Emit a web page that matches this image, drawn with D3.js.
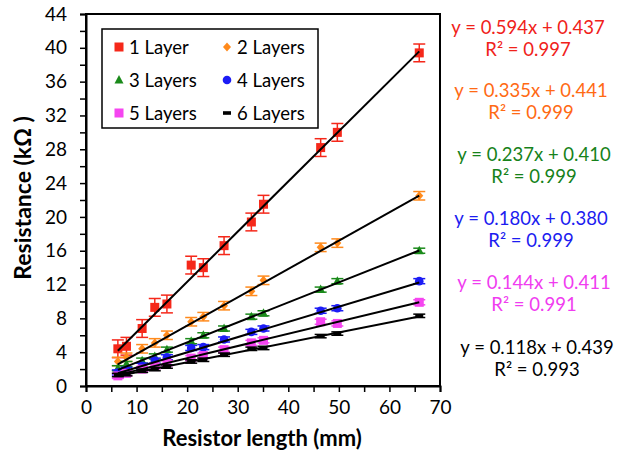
<!DOCTYPE html>
<html>
<head>
<meta charset="utf-8">
<script src="https://cdn.jsdelivr.net/npm/d3@7"></script>
<style>
  html, body { margin: 0; padding: 0; background: #fff; }
  svg { display: block; font-family: Lato, "Open Sans", sans-serif; }
</style>
</head>
<body>
<svg id="chart" width="623" height="451"></svg>
<script>
// Resistor lengths (mm), shared by all layer counts
const lengths = [6.3, 8.0, 11.1, 13.6, 16.0, 20.8, 23.2, 27.3, 32.7, 35.1, 46.4, 49.7, 65.9];

// Measured resistance (kΩ) for each number of printed layers
const layer1 = [4.4, 4.7, 6.8, 9.3, 9.7, 14.3, 14.0, 16.6, 19.4, 21.5, 28.2, 30.0, 39.4];
const layer2 = [2.9, 3.4, 4.4, 5.1, 6.0, 7.6, 8.2, 9.5, 11.2, 12.5, 16.4, 16.9, 22.5];
const layer3 = [2.1, 2.6, 3.0, 3.5, 4.3, 5.3, 6.0, 6.8, 8.2, 8.6, 11.4, 12.4, 16.0];
const layer4 = [1.6, 1.9, 2.4, 3.0, 3.4, 4.5, 4.6, 5.5, 6.4, 6.8, 8.9, 9.2, 12.4];
const layer5 = [1.2, 1.5, 2.0, 2.3, 2.7, 3.3, 3.6, 4.3, 5.1, 5.4, 7.6, 7.4, 9.9];
const layer6 = [1.3, 1.4, 1.8, 2.0, 2.3, 2.9, 3.1, 3.7, 4.4, 4.5, 5.9, 6.2, 8.3];

// Error bar half-widths (kΩ) per series
const errors = [1.05, 0.5, 0.3, 0.3, 0.3, 0.2];

// Linear fits
const slopes = [0.594, 0.335, 0.237, 0.180, 0.144, 0.118];
const intercepts = [0.437, 0.441, 0.410, 0.380, 0.411, 0.439];
const rSquared = [0.997, 0.999, 0.999, 0.999, 0.991, 0.993];

const seriesNames = ["1 Layer", "2 Layers", "3 Layers", "4 Layers", "5 Layers", "6 Layers"];
const seriesValues = [layer1, layer2, layer3, layer4, layer5, layer6];

const xTicks = [0, 10, 20, 30, 40, 50, 60, 70];
const yTicks = [0, 4, 8, 12, 16, 20, 24, 28, 32, 36, 40, 44];

// styling
const markerColors = ["#f5281a", "#ff8a1c", "#1a8a1a", "#1c1cf5", "#f545f0", "#000000"];
const textColors = ["#f0221a", "#ff6a14", "#16821a", "#1c1cf0", "#f03cf0", "#000000"];
const shapes = ["square", "diamond", "triangle", "circle", "square", "dash"];

const svg = d3.select("#chart");
const m = { left: 86, right: 440, top: 14, bottom: 386 };

const x = d3.scaleLinear().domain([0, 70]).range([m.left, m.right]);
const y = d3.scaleLinear().domain([0, 44]).range([m.bottom, m.top]);

// frame
svg.append("rect")
  .attr("x", m.left).attr("y", m.top)
  .attr("width", m.right - m.left).attr("height", m.bottom - m.top)
  .attr("fill", "none").attr("stroke", "#000").attr("stroke-width", 2);

// axes: majors labelled, minors unlabelled
const xAxis = svg.append("g")
  .attr("transform", `translate(0,${m.bottom})`)
  .call(d3.axisBottom(x).tickValues(d3.range(0, 71, 5)).tickSize(6).tickPadding(9)
    .tickFormat(d => xTicks.includes(d) ? d : ""));
const yAxis = svg.append("g")
  .attr("transform", `translate(${m.left},0)`)
  .call(d3.axisLeft(y).tickValues(d3.range(0, 45, 2)).tickSize(6).tickPadding(13)
    .tickFormat(d => yTicks.includes(d) ? d : ""));
[xAxis, yAxis].forEach(g => {
  g.select(".domain").attr("stroke-width", 2);
  g.selectAll(".tick line").attr("stroke-width", 1.5);
  g.selectAll(".tick text").attr("font-size", 19).attr("fill", "#000")
    .attr("font-family", "Lato, 'Open Sans', sans-serif");
});

// axis titles
svg.append("text")
  .attr("x", (m.left + m.right) / 2 - 1).attr("y", 446)
  .attr("text-anchor", "middle").attr("font-weight", "bold").attr("font-size", 22)
  .text("Resistor length (mm)");
svg.append("text")
  .attr("transform", `translate(31,${(m.top + m.bottom) / 2 - 2}) rotate(-90)`)
  .attr("text-anchor", "middle").attr("font-weight", "bold").attr("font-size", 23)
  .text("Resistance (kΩ )");

// marker drawing
function drawMarker(g, shape, color, cx, cy) {
  if (shape === "square") {
    g.append("rect").attr("x", cx - 4.5).attr("y", cy - 4.5).attr("width", 9).attr("height", 9).attr("fill", color);
  } else if (shape === "diamond") {
    g.append("path").attr("d", `M${cx},${cy - 4.5}L${cx + 4},${cy}L${cx},${cy + 4.5}L${cx - 4},${cy}Z`).attr("fill", color);
  } else if (shape === "triangle") {
    g.append("path").attr("d", `M${cx},${cy - 5}L${cx + 4.5},${cy + 3.5}L${cx - 4.5},${cy + 3.5}Z`).attr("fill", color);
  } else if (shape === "circle") {
    g.append("circle").attr("cx", cx).attr("cy", cy).attr("r", 4.3).attr("fill", color);
  } else {
    g.append("rect").attr("x", cx - 4).attr("y", cy - 1.8).attr("width", 8).attr("height", 3.6).attr("fill", color);
  }
}

const plot = svg.append("g");

// error bars and markers
seriesValues.forEach((vals, si) => {
  const g = plot.append("g");
  const color = markerColors[si];
  const e = errors[si];
  vals.forEach((v, i) => {
    const cx = x(lengths[i]);
    const yTop = y(v + e), yBot = y(v - e);
    g.append("line").attr("x1", cx).attr("x2", cx).attr("y1", yTop).attr("y2", yBot)
      .attr("stroke", color).attr("stroke-width", 1.5);
    [yTop, yBot].forEach(yy => g.append("line")
      .attr("x1", cx - 6).attr("x2", cx + 6).attr("y1", yy).attr("y2", yy)
      .attr("stroke", color).attr("stroke-width", 1.5));
    drawMarker(g, shapes[si], color, cx, y(v));
  });
});

// trendlines from first to last length
const x0 = d3.min(lengths), x1 = d3.max(lengths);
slopes.forEach((s, si) => {
  plot.append("line")
    .attr("x1", x(x0)).attr("y1", y(s * x0 + intercepts[si]))
    .attr("x2", x(x1)).attr("y2", y(s * x1 + intercepts[si]))
    .attr("stroke", "#000").attr("stroke-width", 2);
});

// legend
const lg = svg.append("g");
lg.append("rect").attr("x", 102).attr("y", 29).attr("width", 216).attr("height", 99)
  .attr("fill", "#fff").attr("stroke", "#000").attr("stroke-width", 1.5);
seriesNames.forEach((name, i) => {
  const col = i % 2, row = Math.floor(i / 2);
  const mx = col === 0 ? 119 : 227;
  const my = 47 + row * 33;
  drawMarker(lg, shapes[i], markerColors[i], mx, my);
  lg.append("text").attr("x", mx + 10).attr("y", my + 7).attr("font-size", 18.5).text(name);
});

// fit equations
const eqCenters = [528, 531, 534, 531, 534, 537];
const eqTops = [34, 97, 161, 225, 289, 354];
slopes.forEach((s, i) => {
  const t = svg.append("text").attr("text-anchor", "middle").attr("font-size", 18.5)
    .attr("fill", textColors[i]);
  t.append("tspan").attr("x", eqCenters[i]).attr("y", eqTops[i])
    .text(`y = ${s.toFixed(3)}x + ${intercepts[i].toFixed(3)}`);
  t.append("tspan").attr("x", eqCenters[i]).attr("y", eqTops[i] + 22)
    .text("R² = " + rSquared[i].toFixed(3));
});
</script>
</body>
</html>
